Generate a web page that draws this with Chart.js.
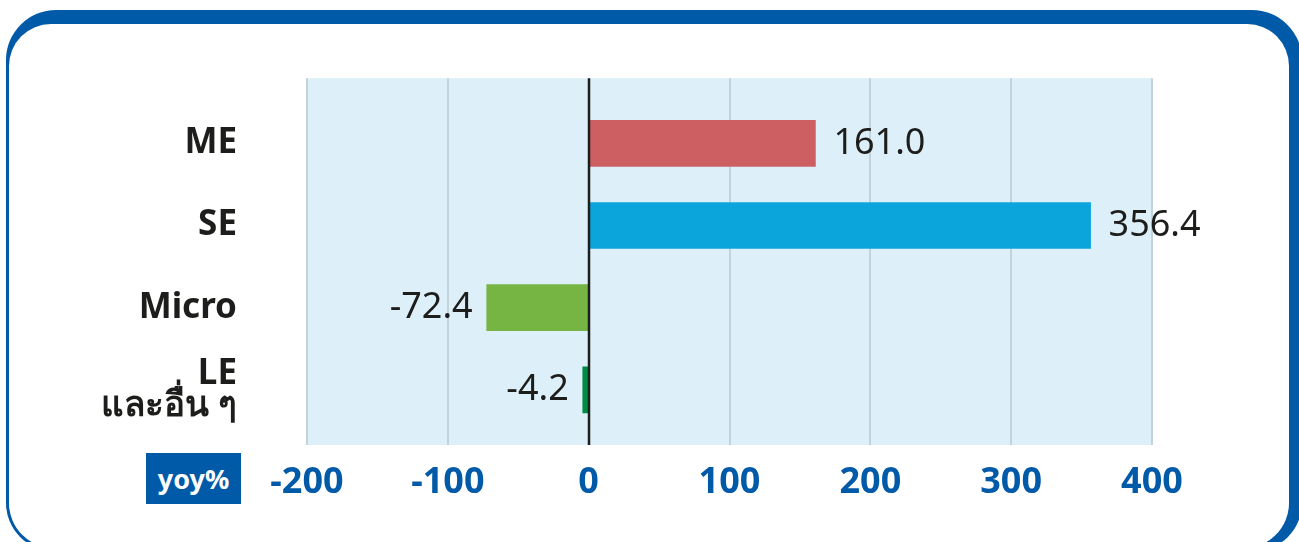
<!DOCTYPE html>
<html>
<head>
<meta charset="utf-8">
<script src="https://cdn.jsdelivr.net/npm/chart.js@4.4.1/dist/chart.umd.min.js"></script>
<style>
    html, body { margin: 0; padding: 0; background: #fff; overflow: hidden; }
    body { width: 1299px; height: 542px; position: relative; font-family: "Noto Sans", sans-serif; }
    .frame-outer { position: absolute; left: 6px; top: 10px; width: 1296px; height: 541px; background: #005aa8; border-radius: 50px 50px 48px 48px; }
    .frame-inner { position: absolute; left: 9px; top: 24px; width: 1280px; height: 524px; background: #fff; border-radius: 42px 42px 45px 45px; }
    .unit-box { position: absolute; left: 146px; top: 453px; width: 95px; height: 51px; background: #005aa8; color: #fff;
        font: bold 27px "Noto Sans", sans-serif; display: flex; align-items: center; justify-content: center; }
    #chart-wrap { position: absolute; left: 0; top: 0; width: 1299px; height: 542px; }
</style>
</head>
<body>
<div class="frame-outer"></div>
<div class="frame-inner"></div>
<div id="chart-wrap"><canvas id="yoy-chart" width="1299" height="542"></canvas></div>
<div class="unit-box">yoy%</div>
<script>
// Chart data
const categories = ['ME', 'SE', 'Micro', ['LE', 'และอื่น ๆ']];
const yoyValues = [161.0, 356.4, -72.4, -4.2];
const barColors = ['#cd5f63', '#0ba5dc', '#76b443', '#008c44'];
const xTickValues = [-200, -100, 0, 100, 200, 300, 400];

const FONT = '"Noto Sans", sans-serif';

// Light blue panel, grid lines and zero line drawn from the x scale
const panelPlugin = {
    id: 'panel',
    beforeDraw(chart) {
        const { ctx, chartArea, scales } = chart;
        const top = chartArea.top - 24;
        const bottom = chartArea.bottom + 14;
        ctx.save();
        ctx.fillStyle = '#ddf0f9';
        ctx.fillRect(chartArea.left, top, chartArea.right - chartArea.left, bottom - top);
        ctx.strokeStyle = '#c3d3da';
        ctx.lineWidth = 2;
        xTickValues.forEach(v => {
            if (v === 0) return;
            const x = Math.round(scales.x.getPixelForValue(v));
            ctx.beginPath();
            ctx.moveTo(x, top);
            ctx.lineTo(x, bottom);
            ctx.stroke();
        });
        ctx.restore();
    },
    afterDatasetsDraw(chart) {
        const { ctx, chartArea, scales } = chart;
        const top = chartArea.top - 24;
        const bottom = chartArea.bottom + 14;
        const x0 = Math.round(scales.x.getPixelForValue(0));
        ctx.save();
        ctx.strokeStyle = '#1d1d1b';
        ctx.lineWidth = 2.5;
        ctx.beginPath();
        ctx.moveTo(x0, top);
        ctx.lineTo(x0, bottom);
        ctx.stroke();

        // Value labels
        ctx.font = '36px ' + FONT;
        ctx.fillStyle = '#1d1d1b';
        ctx.textBaseline = 'middle';
        chart.getDatasetMeta(0).data.forEach((bar, i) => {
            const v = yoyValues[i];
            const label = v.toFixed(1);
            if (v >= 0) {
                ctx.textAlign = 'left';
                ctx.fillText(label, bar.x + 18, bar.y);
            } else {
                ctx.textAlign = 'right';
                ctx.fillText(label, bar.x - 14, bar.y);
            }
        });
        ctx.restore();
    }
};

const ctx = document.getElementById('yoy-chart').getContext('2d');
const yoyChart = new Chart(ctx, {
    type: 'bar',
    data: {
        labels: categories,
        datasets: [{
            data: yoyValues,
            backgroundColor: barColors,
            borderWidth: 0,
            barThickness: 46
        }]
    },
    options: {
        indexAxis: 'y',
        responsive: false,
        animation: false,
        devicePixelRatio: 1,
        layout: {
            padding: { top: 100, right: 147, bottom: 0, left: 0 }
        },
        plugins: {
            legend: { display: false },
            tooltip: { enabled: false }
        },
        scales: {
            x: {
                type: 'linear',
                min: -200,
                max: 400,
                afterBuildTicks: scale => {
                    scale.ticks = xTickValues.map(v => ({ value: v }));
                },
                afterFit: scale => { scale.height = 111; },
                grid: { display: false, drawTicks: false },
                border: { display: false },
                ticks: {
                    color: '#005aa8',
                    padding: 30,
                    maxRotation: 0,
                    autoSkip: false,
                    font: { family: FONT, size: 36, weight: 'bold' }
                }
            },
            y: {
                afterFit: scale => { scale.width = 307; },
                grid: { display: false, drawTicks: false },
                border: { display: false },
                ticks: {
                    color: '#1d1d1b',
                    padding: 70,
                    autoSkip: false,
                    font: { family: FONT, size: 35, weight: 'bold', lineHeight: 0.92 }
                }
            }
        }
    },
    plugins: [panelPlugin]
});
</script>
</body>
</html>
